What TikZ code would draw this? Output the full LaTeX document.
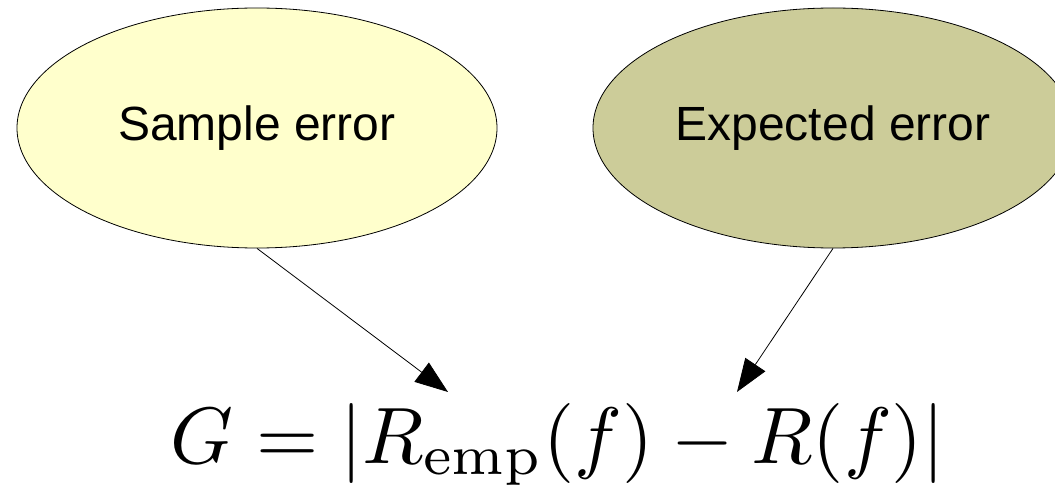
\documentclass[tikz,border=0pt]{standalone}
\usepackage[no-math]{fontspec}
\setmainfont{Liberation Sans}
\usepackage{xcolor}
\usepackage{tikz}
\usetikzlibrary{shapes.geometric,arrows.meta,positioning}

\definecolor{sampfill}{RGB}{255,255,204}
\definecolor{expfill}{RGB}{204,204,153}

\begin{document}
\begin{tikzpicture}[x=1pt, y=-1pt, font=\fontsize{48}{54}\selectfont, blob/.style={draw, ellipse, inner sep=0pt, minimum width=480pt, minimum height=240pt, line width=0.8pt}, arr/.style={-{Triangle[length=33pt, width=24pt]}, line width=0.8pt}]
\useasboundingbox (0,0) rectangle (1055,486);
\clip (0,0) rectangle (1055,486);
\node[blob, fill=sampfill] (sample) at (257,128) {Sample error};
\node[blob, fill=expfill] (expected) at (833,128) {Expected error};
\node[font=\normalsize, anchor=base, inner sep=0pt] (gap) at (558,463) {\scalebox{8}{$G = |R_{\mathrm{emp}}(f) - R(f)|$}};
\coordinate (tipl) at (448,392);
\coordinate (tipr) at (737,392);
\draw[arr] (sample.south) -- (tipl);
\draw[arr] (expected.south) -- (tipr);
\end{tikzpicture}
\end{document}
